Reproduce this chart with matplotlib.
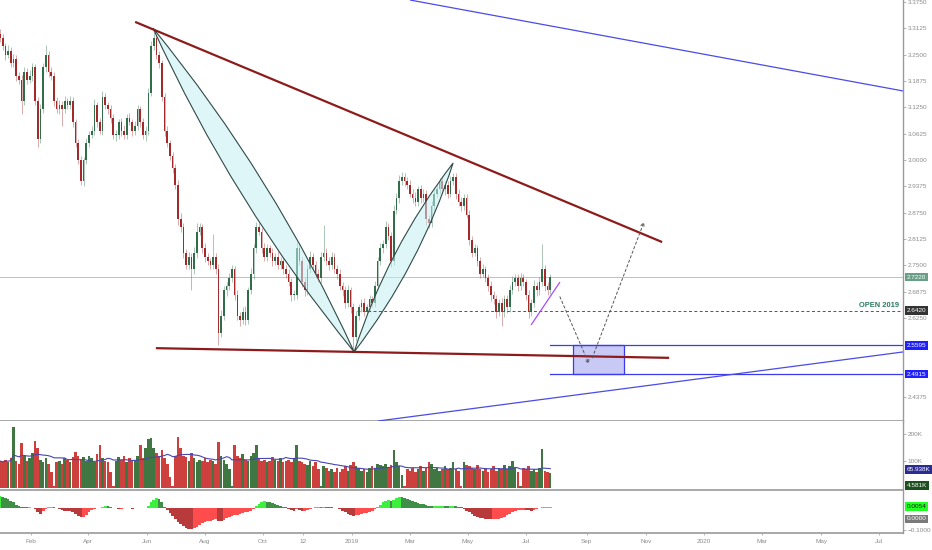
import matplotlib

matplotlib.use("Agg")
import matplotlib.pyplot as plt  # noqa: E402
import numpy as np  # noqa: E402
import pandas as pd  # noqa: E402
from matplotlib.patches import PathPatch, Rectangle  # noqa: E402
from matplotlib.path import Path  # noqa: E402

plt.rcParams["font.family"] = ["Liberation Sans", "DejaVu Sans"]

# one candle per two business days, starting here
START = "2018-01-01"

first_open = 3.30
closes = [
    3.29, 3.27, 3.25, 3.26, 3.23, 3.24, 3.20, 3.19, 3.14, 3.21,
    3.19, 3.20, 3.22, 3.14, 3.05, 3.12, 3.22, 3.25, 3.21, 3.20,
    3.14, 3.12, 3.13, 3.12, 3.14, 3.13, 3.14, 3.09, 3.04, 3.00,
    2.95, 3.00, 3.04, 3.06, 3.07, 3.13, 3.09, 3.07, 3.15, 3.13,
    3.12, 3.10, 3.06, 3.06, 3.09, 3.07, 3.06, 3.10, 3.09, 3.07,
    3.08, 3.12, 3.09, 3.06, 3.07, 3.16, 3.27, 3.29, 3.25, 3.23,
    3.15, 3.07, 3.04, 3.01, 2.98, 2.94, 2.86, 2.84, 2.78, 2.75,
    2.77, 2.74, 2.78, 2.83, 2.84, 2.79, 2.77, 2.76, 2.75, 2.77,
    2.74, 2.59, 2.63, 2.69, 2.70, 2.72, 2.74, 2.68, 2.63, 2.62,
    2.64, 2.62, 2.69, 2.73, 2.79, 2.84, 2.83, 2.79, 2.77, 2.79,
    2.78, 2.76, 2.77, 2.75, 2.76, 2.74, 2.73, 2.71, 2.68, 2.68,
    2.79, 2.76, 2.71, 2.69, 2.74, 2.77, 2.75, 2.73, 2.72, 2.77,
    2.78, 2.76, 2.75, 2.77, 2.74, 2.73, 2.70, 2.69, 2.66, 2.69,
    2.65, 2.58, 2.63, 2.65, 2.66, 2.64, 2.65, 2.67, 2.66, 2.70,
    2.76, 2.79, 2.80, 2.84, 2.82, 2.76, 2.88, 2.91, 2.95, 2.96,
    2.95, 2.94, 2.92, 2.91, 2.90, 2.93, 2.91, 2.92, 2.86, 2.85,
    2.89, 2.92, 2.93, 2.95, 2.93, 2.94, 2.92, 2.95, 2.96, 2.92,
    2.90, 2.89, 2.91, 2.87, 2.81, 2.78, 2.79, 2.76, 2.73, 2.74,
    2.72, 2.70, 2.68, 2.67, 2.64, 2.66, 2.64, 2.67, 2.65, 2.69,
    2.71, 2.72, 2.70, 2.72, 2.71, 2.68, 2.64, 2.66, 2.70, 2.69,
    2.71, 2.74, 2.70, 2.69, 2.722,
]
# wick length beyond the body, in thousandths
wick_up = [
    12, 10, 8, 14, 9, 12, 10, 8, 12, 10,
    9, 14, 10, 8, 10, 12, 10, 23, 9, 12,
    8, 10, 12, 9, 11, 8, 12, 10, 8, 9,
    10, 8, 12, 9, 10, 14, 8, 10, 15, 10,
    8, 10, 9, 12, 8, 10, 12, 9, 11, 8,
    12, 10, 8, 9, 10, 10, 12, 20, 9, 10,
    8, 9, 10, 8, 9, 10, 12, 14, 10, 9,
    12, 10, 14, 20, 10, 9, 12, 10, 8, 55,
    10, 12, 14, 10, 9, 12, 10, 8, 12, 10,
    10, 12, 9, 14, 10, 12, 10, 9, 12, 10,
    9, 12, 10, 14, 10, 8, 10, 12, 9, 10,
    15, 10, 9, 12, 10, 14, 10, 9, 10, 12,
    65, 10, 9, 12, 8, 10, 12, 9, 10, 12,
    9, 10, 12, 8, 10, 12, 9, 10, 8, 12,
    10, 12, 9, 14, 10, 8, 12, 12, 14, 12,
    10, 9, 12, 10, 14, 9, 10, 12, 9, 10,
    12, 9, 10, 8, 12, 10, 9, 12, 10, 9,
    10, 12, 9, 10, 12, 9, 10, 8, 10, 12,
    9, 10, 12, 8, 10, 9, 12, 10, 9, 12,
    14, 10, 9, 12, 10, 8, 12, 10, 14, 10,
    12, 60, 10, 9, 8,
]
wick_dn = [
    10, 9, 12, 8, 10, 9, 12, 10, 30, 9,
    10, 8, 12, 10, 20, 10, 9, 10, 12, 10,
    12, 9, 10, 40, 9, 10, 8, 12, 10, 9,
    10, 12, 9, 10, 8, 10, 12, 9, 10, 8,
    10, 12, 9, 14, 10, 12, 9, 10, 8, 12,
    10, 9, 12, 10, 14, 10, 9, 8, 10, 12,
    10, 12, 9, 10, 12, 10, 14, 10, 12, 10,
    9, 50, 10, 12, 9, 10, 12, 10, 9, 10,
    12, 30, 10, 9, 12, 10, 9, 12, 10, 14,
    9, 12, 10, 9, 12, 10, 9, 12, 10, 9,
    10, 12, 9, 10, 8, 12, 10, 9, 14, 12,
    10, 9, 12, 14, 10, 9, 12, 10, 9, 12,
    10, 9, 12, 10, 9, 12, 10, 14, 12, 10,
    14, 30, 10, 9, 12, 10, 9, 12, 10, 9,
    10, 9, 12, 10, 9, 14, 10, 9, 12, 10,
    12, 10, 9, 12, 10, 9, 12, 10, 14, 12,
    10, 12, 9, 10, 8, 12, 10, 9, 10, 12,
    9, 12, 10, 9, 12, 10, 9, 12, 10, 9,
    10, 12, 14, 12, 15, 10, 35, 12, 14, 10,
    9, 10, 12, 10, 9, 12, 15, 10, 9, 12,
    10, 9, 12, 10, 9,
]
volume_k = [
    100, 95, 105, 98, 110, 225, 100, 90, 165, 120,
    100, 110, 130, 175, 150, 105, 95, 110, 90, 60,
    6, 95, 100, 90, 110, 105, 98, 115, 135, 120,
    105, 115, 100, 120, 110, 95, 125, 160, 110, 100,
    95, 60, 6, 100, 115, 105, 120, 95, 110, 100,
    105, 120, 160, 110, 150, 180, 185, 150, 130, 120,
    140, 110, 90, 40, 6, 120, 190, 150, 120, 115,
    100, 130, 110, 95, 105, 100, 110, 95, 105, 100,
    90, 170, 120, 105, 90, 70, 6, 160, 120, 110,
    125, 105, 100, 120, 130, 160, 110, 100, 105, 95,
    100, 115, 105, 100, 110, 95, 100, 105, 95, 110,
    160, 100, 95, 90, 85, 100, 80, 95, 70, 6,
    80, 75, 65, 70, 60, 75, 60, 70, 80, 65,
    85, 95, 80, 75, 65, 70, 60, 75, 80, 70,
    90, 85, 80, 90, 75, 85, 140, 95, 80, 50,
    6, 70, 65, 75, 60, 70, 80, 65, 75, 95,
    90, 70, 75, 65, 70, 80, 70, 75, 95, 70,
    65, 6, 95, 85, 80, 75, 70, 85, 70, 65,
    75, 60, 70, 80, 65, 75, 70, 85, 70, 80,
    100, 75, 60, 6, 75, 70, 80, 65, 70, 60,
    75, 145, 65, 60, 55,
]
# oscillator histogram, in thousandths
osc_milli = [
    52, 50, 45, 40, 33, 25, 15, 8, 4, 3,
    2, 2, 1, -6, -18, -26, -15, -3, 2, 4,
    3, -2, -6, -10, -12, -14, -16, -20, -26, -36,
    -43, -40, -30, -18, -8, -3, -1, 1, 5, 9,
    8, 4, -1, -2, -3, -3, -2, -1, -2, -3,
    -2, -1, -1, 0, -1, 8, 25, 38, 43, 40,
    25, 5, -10, -22, -35, -50, -62, -72, -82, -90,
    -95, -96, -93, -86, -78, -70, -64, -60, -58, -55,
    -52, -58, -60, -55, -48, -42, -37, -34, -30, -27,
    -23, -20, -17, -12, -4, 8, 20, 27, 30, 29,
    26, 22, 18, 14, 10, 6, 2, -3, -8, -12,
    -6, -9, -13, -12, -8, -3, 1, 3, 4, 3,
    5, 4, 3, 2, 1, 0, -5, -12, -20, -27,
    -32, -35, -33, -30, -28, -25, -22, -17, -12, -6,
    5, 15, 25, 33, 35, 30, 36, 44, 49, 48,
    45, 40, 36, 32, 28, 24, 20, 16, 12, 9,
    7, 8, 8, 9, 10, 9, 8, 9, 10, 8,
    5, 2, -5, -12, -20, -28, -35, -40, -44, -47,
    -49, -51, -52, -52, -51, -49, -45, -40, -33, -26,
    -19, -13, -10, -9, -9, -10, -11, -12, -10, -6,
    1, 3, 5, 5, 5,
]

month_dates = [
    "2018-02-01", "2018-04-02", "2018-06-01", "2018-08-01", "2018-10-01",
    "2018-11-12", "2019-01-01", "2019-03-01", "2019-05-01", "2019-07-01",
    "2019-09-02", "2019-11-01", "2020-01-01", "2020-03-02", "2020-05-01",
    "2020-07-01",
]
month_labels = [
    "Feb", "Apr", "Jun", "Aug", "Oct", "12", "2019", "Mar", "May", "Jul",
    "Sep", "Nov", "2020", "Mar", "May", "Jul",
]
price_ticks = [
    3.3750, 3.3125, 3.2500, 3.1875, 3.1250, 3.0625, 3.0000, 2.9375,
    2.8750, 2.8125, 2.7500, 2.6875, 2.6250, 2.4375,
]
volume_ticks = [200, 100]
osc_ticks = [-0.1]

# drawings, in (candle position, price)
upper_red = [(50.1, 3.328), (245.5, 2.805)]
lower_red = [(57.8, 2.553), (248.1, 2.530)]
blue_top = [(152.0, 3.380), (334.8, 3.164)]
blue_bottom = [(140.2, 2.380), (334.8, 2.544)]
zone_levels = [2.5595, 2.4915]
zone_start = 203.9
zone_box = (212.5, 231.4)
open_2019 = 2.642
open_start = 132.5
violet = [(196.9, 2.608), (207.6, 2.710)]
arrow_path = [(207.6, 2.675), (218.4, 2.515), (219.6, 2.530), (238.8, 2.853)]
last_price = 2.722
lens_down = [(56.7, 3.3135), (101.7, 2.9596), (131.3, 2.544), (86.25, 2.8979)]
lens_up = [(131.3, 2.544), (155.7, 2.7482), (168.0, 2.9929), (143.5, 2.7886)]

XMAX = 334.8
GRAY = "#8c8c8c"
LINE = "#9a9a9a"

x = np.arange(len(closes))
c = np.array(closes)
o = np.r_[first_open, c[:-1]]
up = c >= o
hi = np.maximum(o, c) + np.array(wick_up) / 1000
lo = np.minimum(o, c) - np.array(wick_dn) / 1000
body_col = np.where(up, "#2f6e48", "#a3292b")

fig = plt.figure(figsize=(9.32, 5.5), dpi=100)
ax = fig.add_axes([0, 129 / 550, 903 / 932, 421 / 550])
axv = fig.add_axes([0, 60 / 550, 903 / 932, 69 / 550])
axo = fig.add_axes([0, 17 / 550, 903 / 932, 42 / 550])

for a in (ax, axv, axo):
    a.set_xlim(0, XMAX)
    a.set_facecolor("white")
    a.spines["left"].set_visible(False)
    a.spines["top"].set_visible(False)
    a.spines["right"].set_color(LINE)
    a.spines["bottom"].set_color(LINE)
    a.spines["right"].set_linewidth(1.0)
    a.spines["bottom"].set_linewidth(1.2)
    a.yaxis.tick_right()
    a.tick_params(axis="y", length=2, width=0.6, color="#aaaaaa",
                  labelsize=4.6, labelcolor=GRAY, pad=1.5)
    a.tick_params(axis="x", bottom=False, labelbottom=False)

# price pane
ax.set_ylim(2.380, 3.380)
ax.vlines(x, lo, hi, colors=body_col, linewidth=0.6, alpha=0.45, zorder=2)
ax.bar(x, np.where(np.abs(c - o) < 0.002, 0.002, c - o), bottom=o, width=0.62,
       color=body_col, linewidth=0, zorder=2.2)
ax.axhline(last_price, color="#a8cbc6", linewidth=0.7, zorder=1)
ax.set_yticks(price_ticks)
ax.set_yticklabels([f"{t:.4f}" for t in price_ticks])


def lens(points):
    a, c1, b, c2 = points
    verts = [a, c1, b, c2, a, a]
    codes = [Path.MOVETO, Path.CURVE3, Path.CURVE3, Path.CURVE3, Path.CURVE3,
             Path.CLOSEPOLY]
    return Path(verts, codes)


for pts in (lens_down, lens_up):
    ax.add_patch(PathPatch(lens(pts), facecolor="#c4eff4", alpha=0.55,
                           edgecolor="none", zorder=3))
    ax.add_patch(PathPatch(lens(pts), facecolor="none", edgecolor="#2f4a47",
                           linewidth=0.8, zorder=3.1))

ax.add_patch(Rectangle((zone_box[0], zone_levels[1]), zone_box[1] - zone_box[0],
                       zone_levels[0] - zone_levels[1], facecolor="#c9c9f5",
                       edgecolor="#3a3af0", linewidth=0.9, zorder=3))
for lvl in zone_levels:
    ax.plot([zone_start, XMAX], [lvl, lvl], color="#3a3af0", linewidth=0.9, zorder=3.2)

for seg, col, lw in ((upper_red, "#8e1b1b", 1.6), (lower_red, "#8e1b1b", 1.6),
                     (blue_top, "#4b4be6", 0.9), (blue_bottom, "#4b4be6", 0.9),
                     (violet, "#a94cf5", 0.9)):
    ax.plot([seg[0][0], seg[1][0]], [seg[0][1], seg[1][1]], color=col,
            linewidth=lw, solid_capstyle="butt", zorder=3.5)

ax.plot([open_start, XMAX], [open_2019, open_2019], color="#555555",
        linewidth=0.7, linestyle=(0, (3, 2.5)), zorder=3.3)
ax.text(XMAX - 1.3, open_2019 + 0.004, "OPEN 2019", ha="right", va="bottom",
        fontsize=5.4, fontweight="bold", color="#2a7d5f", zorder=4)

for p0, p1 in ((arrow_path[0], arrow_path[1]), (arrow_path[2], arrow_path[3])):
    ax.annotate("", xy=p1, xytext=p0, zorder=4,
                arrowprops=dict(arrowstyle="->,head_length=0.25,head_width=0.12",
                                color="#555555", linewidth=0.7,
                                linestyle=(0, (2.5, 2.5)), shrinkA=0, shrinkB=0))

# volume pane
vol = np.array(volume_k, dtype=float)
axv.set_ylim(-7, 248)
axv.bar(x, vol, width=0.95, color=np.where(up, "#2f6a31", "#c9302c"),
        linewidth=0, alpha=0.92, zorder=2)
axv.plot(x, pd.Series(vol).rolling(20, min_periods=1).mean(), color="#4646b4",
         linewidth=0.8, zorder=3)
axv.set_yticks(volume_ticks)
axv.set_yticklabels([f"{t}K" for t in volume_ticks])

# oscillator pane
osc = np.array(osc_milli) / 1000
step = np.diff(osc, prepend=osc[0])
osc_col = np.where(osc >= 0, np.where(step >= 0, "#3ef03e", "#3f8f46"),
                   np.where(step < 0, "#b83a3a", "#ff4d4d"))
axo.set_ylim(-0.114, 0.077)
axo.bar(x, osc, width=1.0, color=osc_col, linewidth=0, zorder=2)
axo.set_yticks(osc_ticks)
axo.set_yticklabels(["\u22120.1000"])

# time axis
tick_x = np.busday_count(START, month_dates) / 2
axo.set_xticks(tick_x)
axo.set_xticklabels(month_labels)
axo.tick_params(axis="x", bottom=True, labelbottom=True, length=1.5, width=0.6,
                color="#aaaaaa", labelsize=4.6, labelcolor=GRAY, pad=3)


def tag(a, y, text, face, color="white"):
    a.text(1.004, y, text, transform=a.get_yaxis_transform(), ha="left",
           va="center", fontsize=4.6, color=color, zorder=10, clip_on=False,
           bbox=dict(boxstyle="square,pad=0.3", fc=face, ec="none"))


tag(ax, last_price, f"{last_price:.4f}", "#6a9f87")
tag(ax, open_2019, f"{open_2019:.4f}", "#333333")
tag(ax, zone_levels[0], f"{zone_levels[0]:.4f}", "#1f1fff")
tag(ax, zone_levels[1], f"{zone_levels[1]:.4f}", "#1f1fff")
tag(axv, 68, "65.938K", "#2b2b90")
tag(axv, 10, "4.581K", "#1d4f1f")
tag(axo, 0.0054, "0.0054", "#22ff22", color="#1a1a1a")
tag(axo, -0.05, "0.0000", "#7a7a7a")

fig.savefig("out.png", dpi=100, facecolor="white")
plt.close(fig)
